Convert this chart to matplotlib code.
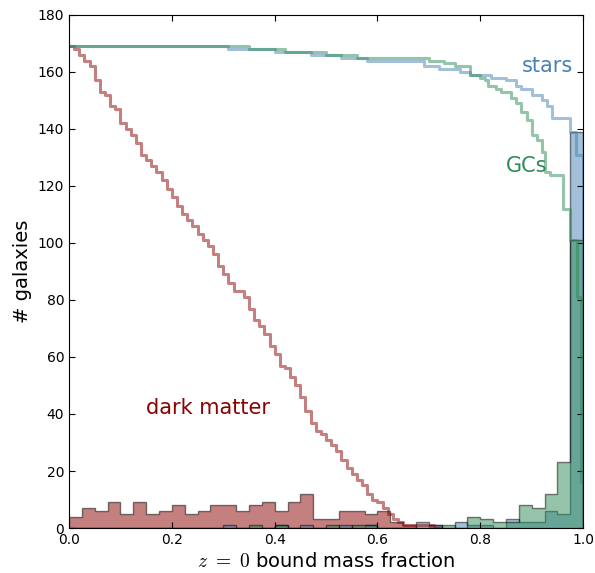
import numpy as np
import matplotlib
matplotlib.use("Agg")
import matplotlib.pyplot as plt

plt.rcParams['mathtext.fontset'] = 'cm'
plt.rcParams['font.family'] = 'DejaVu Sans'

# histogram counts, 40 bins of 0.025 in bound mass fraction
dm_counts = [4, 7, 6, 9, 5, 9, 5, 6, 8, 5, 6, 8, 8, 6, 8, 9, 6, 9, 12, 3,
             3, 6, 6, 5, 6, 2, 1, 0, 1, 0, 0, 0, 0, 0, 0, 0, 0, 0, 0, 0]
star_counts = [0, 0, 0, 0, 0, 0, 0, 0, 0, 0, 0, 0, 1, 0, 0, 0, 1, 0, 1, 0,
               0, 1, 0, 1, 0, 0, 0, 2, 1, 0, 2, 1, 1, 0, 3, 2, 2, 6, 5, 139]
gc_counts = [0, 0, 0, 0, 0, 0, 0, 0, 0, 0, 0, 0, 0, 0, 1, 0, 1, 0, 0, 0,
             1, 0, 1, 1, 0, 0, 0, 0, 0, 1, 0, 4, 3, 2, 2, 8, 7, 12, 23, 101]

# number of galaxies with bound fraction above x (cumulative curves)
dm_cum_x = np.round(np.arange(0, 0.73, 0.01), 2)
dm_cum_n = [169, 168, 166, 164, 162, 157, 153, 152, 148, 147,
            142, 140, 138, 135, 131, 129, 127, 125, 122, 119,
            116, 113, 110, 108, 106, 103, 101, 99, 96, 92,
            89, 86, 83, 83, 81, 77, 73, 71, 68, 64,
            61, 57, 56, 53, 50, 46, 41, 37, 34, 33,
            31, 29, 27, 24, 21, 19, 17, 15, 12, 10,
            9, 7, 5, 3, 2, 1, 1, 1, 1, 1,
            1, 0, 0]
star_cum_x = [0.0, 0.31, 0.40, 0.47, 0.53, 0.58, 0.69, 0.72, 0.76, 0.78,
              0.80, 0.82, 0.85, 0.87, 0.88, 0.90, 0.92, 0.93, 0.94, 0.975,
              0.986, 1.0]
star_cum_n = [169, 168, 167, 166, 165, 164, 162, 161, 160, 159,
              159, 158, 157, 155, 154, 152, 150, 148, 144, 139,
              131, 0]
gc_cum_x = [0.0, 0.35, 0.42, 0.50, 0.56, 0.70, 0.73, 0.75, 0.78, 0.80,
            0.81, 0.815, 0.83, 0.84, 0.86, 0.87, 0.88, 0.89, 0.90, 0.91,
            0.92, 0.925, 0.935, 0.96, 0.975, 0.988, 0.996, 1.0]
gc_cum_n = [169, 168, 167, 166, 165, 164, 163, 162, 159, 158,
            157, 155, 154, 153, 151, 149, 146, 143, 138, 136,
            132, 125, 124, 112, 101, 81, 16, 0]

bins = np.linspace(0, 1, len(dm_counts) + 1)

fig = plt.figure(figsize=(5.95, 5.73), dpi=100)
ax = fig.add_axes([0.116, 0.0785, 0.864, 0.8955])

for counts, col in [(dm_counts, 'darkred'), (star_counts, 'steelblue'),
                    (gc_counts, 'seagreen')]:
    ax.stairs(counts, bins, fill=True, facecolor=col, edgecolor='k',
              alpha=0.5, lw=1)

ax.step(dm_cum_x, dm_cum_n, where='post', color='darkred', alpha=0.5, lw=2.2)
ax.step(star_cum_x, star_cum_n, where='post', color='steelblue', alpha=0.5, lw=2.2)
ax.step(gc_cum_x, gc_cum_n, where='post', color='seagreen', alpha=0.5, lw=2.2)

ax.text(0.881, 162, 'stars', color='steelblue', fontsize=15, va='center')
ax.text(0.85, 127, 'GCs', color='seagreen', fontsize=15, va='center')
ax.text(0.15, 42, 'dark matter', color='darkred', fontsize=15, va='center')

ax.set_xlim(0, 1)
ax.set_ylim(0, 180)
ax.set_xticks(np.arange(0, 1.01, 0.2))
ax.set_yticks(np.arange(0, 181, 20))
ax.tick_params(direction='in', top=True, right=True, labelsize=10, length=4)
ax.set_xlabel(r'$z\ =\ 0$ bound mass fraction', fontsize=14)
ax.set_ylabel('# galaxies', fontsize=14)

fig.savefig('out.png', dpi=100)
